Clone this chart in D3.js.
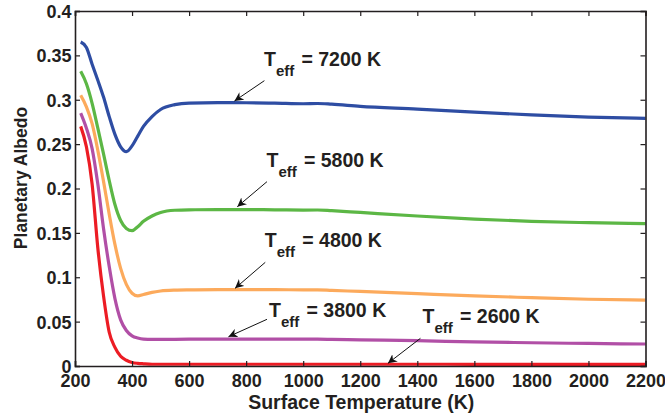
<!DOCTYPE html>
<html><head><meta charset="utf-8">
<script src="https://cdn.jsdelivr.net/npm/d3@7"></script>
<style>
html,body{margin:0;padding:0;background:#fff;}
text{font-family:"Liberation Sans",Arial,Helvetica,sans-serif;font-weight:bold;fill:#231f20;}
</style></head><body>
<svg id="chart" width="665" height="415"></svg>
<script>
// ---- data ----
const temps = [220,240,260,280,300,320,340,360,380,400,420,440,470,500,550,600,700,800,900,1000,1050,1100,1200,1400,1600,1800,2000,2200];
const albedo7200 = [0.365,0.359,0.340,0.322,0.303,0.281,0.261,0.247,0.2415,0.248,0.259,0.270,0.281,0.289,0.2945,0.2963,0.2967,0.2966,0.2962,0.2955,0.2958,0.2950,0.2925,0.2895,0.2860,0.2830,0.2805,0.2790];
const albedo5800 = [0.332,0.318,0.296,0.268,0.239,0.209,0.182,0.164,0.155,0.1525,0.157,0.163,0.169,0.173,0.1755,0.1760,0.1762,0.1762,0.1760,0.1757,0.1758,0.1750,0.1730,0.1690,0.1655,0.1630,0.1615,0.1605];
const albedo4800 = [0.305,0.292,0.273,0.243,0.208,0.171,0.137,0.110,0.092,0.082,0.079,0.0805,0.083,0.0845,0.0855,0.0858,0.0860,0.0860,0.0860,0.0858,0.0858,0.0852,0.0840,0.0815,0.0790,0.0770,0.0752,0.0742];
const albedo3800 = [0.285,0.268,0.245,0.205,0.155,0.112,0.076,0.052,0.040,0.034,0.0315,0.0303,0.0300,0.0300,0.0301,0.0302,0.0302,0.0302,0.0302,0.0302,0.0302,0.0300,0.0295,0.0285,0.0272,0.0262,0.0254,0.0248];
const albedo2600 = [0.270,0.247,0.205,0.133,0.079,0.038,0.021,0.011,0.0065,0.004,0.003,0.0025,0.002,0.002,0.002,0.002,0.002,0.002,0.002,0.002,0.002,0.002,0.002,0.002,0.0019,0.0019,0.0018,0.0018];
const seriesNames = ["7200","5800","4800","3800","2600"];
const seriesColors = ["#2E4DA3","#5CB745","#FCAA5C","#B14FA6","#EC1C24"];
const xTicks = [200,400,600,800,1000,1200,1400,1600,1800,2000,2200];
const yTicks = [0,0.05,0.1,0.15,0.2,0.25,0.3,0.35,0.4];
const yTickLabels = ["0","0.05","0.1","0.15","0.2","0.25","0.3","0.35","0.4"];
// annotations (data coordinates)
const annotLabels = ["7200","5800","4800","3800","2600"];
const annotTip = [[759,0.2986],[769,0.1795],[761,0.0875],[738,0.0330],[1297,0.0030]];
const annotStart = [[864,0.3215],[873,0.2077],[867,0.1168],[873,0.0526],[1411,0.0312]];
const annotText = [[864,0.338],[873,0.2239],[867,0.1337],[882,0.0549],[1420,0.0481]];

const allSeries = [albedo7200,albedo5800,albedo4800,albedo3800,albedo2600];

// ---- layout ----
const svg = d3.select("#chart");
const L=75, R=645.5, T=11, B=366;
const x = d3.scaleLinear().domain([200,2200]).range([L,R]);
const y = d3.scaleLinear().domain([0,0.4]).range([B,T]);

// lines
const line = d3.line().x((d,i)=>x(temps[i])).y(d=>y(d)).curve(d3.curveMonotoneX);
allSeries.forEach((s,k)=>{
  svg.append("path").datum(s).attr("d",line)
    .attr("fill","none").attr("stroke",seriesColors[k]).attr("stroke-width",3.2)
    .attr("stroke-linejoin","round").attr("stroke-linecap","butt");
});

// axes (box with inward ticks)
const ax = "#231f20";
const tl = 5;
const gB = svg.append("g").attr("transform",`translate(0,${B})`)
  .call(d3.axisBottom(x).tickValues(xTicks).tickSize(-tl).tickPadding(10).tickFormat(d3.format("d")));
const gT = svg.append("g").attr("transform",`translate(0,${T})`)
  .call(d3.axisTop(x).tickValues(xTicks).tickSize(-tl).tickFormat(""));
const gL = svg.append("g").attr("transform",`translate(${L},0)`)
  .call(d3.axisLeft(y).tickValues(yTicks).tickSize(-tl).tickPadding(8).tickFormat((d,i)=>yTickLabels[i]));
const gR = svg.append("g").attr("transform",`translate(${R},0)`)
  .call(d3.axisRight(y).tickValues(yTicks).tickSize(-tl).tickFormat(""));
[gB,gT,gL,gR].forEach(g=>{
  g.select(".domain").attr("stroke",ax).attr("stroke-width",1.6);
  g.selectAll(".tick line").attr("stroke",ax).attr("stroke-width",1.2);
  g.selectAll(".tick text").attr("fill",ax).style("font-size","18px")
    .style("font-family",'"Liberation Sans",Arial,sans-serif').style("font-weight","bold");
});
gB.selectAll(".tick text").attr("dy","0.71em").attr("y",8.5);
gL.selectAll(".tick text").attr("x",-3.5).attr("dy","0.36em");

// axis titles
svg.append("text").attr("x",(L+R)/2+1).attr("y",409).attr("text-anchor","middle")
  .style("font-size","19.5px").text("Surface Temperature (K)");
svg.append("text").attr("transform",`translate(27,178) rotate(-90)`).attr("text-anchor","middle")
  .style("font-size","17.5px").text("Planetary Albedo");

// arrow marker
const defs = svg.append("defs");
defs.append("marker").attr("id","ah").attr("viewBox","0 0 10 10").attr("refX",10).attr("refY",5)
  .attr("markerWidth",9).attr("markerHeight",9).attr("markerUnits","userSpaceOnUse").attr("orient","auto")
  .append("path").attr("d","M0,0 L10,5 L0,10 L3,5 Z").attr("fill","#111");

annotLabels.forEach((lab,i)=>{
  svg.append("line")
    .attr("x1",x(annotStart[i][0])).attr("y1",y(annotStart[i][1]))
    .attr("x2",x(annotTip[i][0])).attr("y2",y(annotTip[i][1]))
    .attr("stroke","#111").attr("stroke-width",1).attr("marker-end","url(#ah)");
  const tx = x(annotText[i][0]), ty = y(annotText[i][1]);
  svg.append("text").attr("x",tx-0.5).attr("y",ty).style("font-size","19.5px").text("T");
  svg.append("text").attr("x",tx+11.5).attr("y",ty+9.5).style("font-size","15px").text("eff");
  svg.append("text").attr("x",tx+37).attr("y",ty).style("font-size","19.5px").text("= "+lab+" K");
});
</script></body></html>
